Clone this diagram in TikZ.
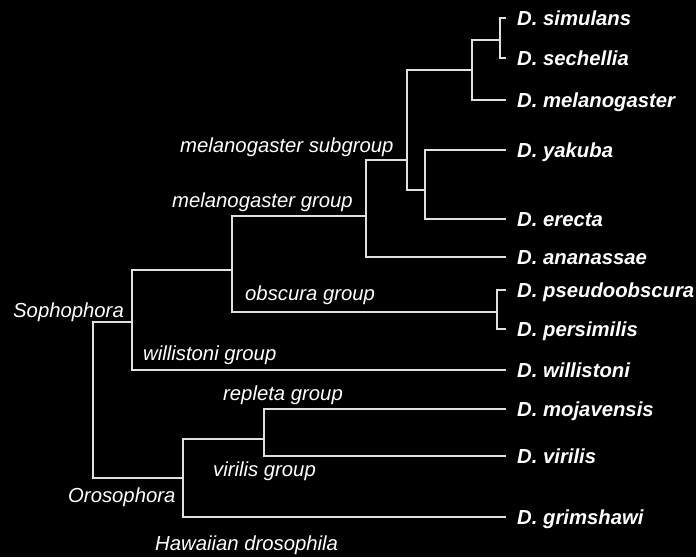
\documentclass[tikz,border=0pt]{standalone}
\usepackage{fontspec}
\setmainfont{Liberation Sans}
\usetikzlibrary{positioning}

\begin{document}
\begin{tikzpicture}[x=1pt,y=-1pt,
    branch/.style={draw=white!88!black,line width=2pt},
    leaf/.style={anchor=west,inner xsep=11pt,inner ysep=0pt,text height=14.6pt,text depth=0pt,
      font=\fontsize{20.3}{24}\selectfont\bfseries\itshape,text=white},
    grp/.style={anchor=west,inner sep=0pt,text height=14.6pt,text depth=0pt,
      font=\fontsize{20.3}{24}\selectfont\itshape,text=white}]
    \fill[black] (0,0) rectangle (696,557);
    \useasboundingbox (0,0) rectangle (696,557);

    % species
    \node[leaf] (sim) at (506,18) {D. simulans};
    \node[leaf] (sec) at (506,58) {D. sechellia};
    \node[leaf] (mel) at (506,100) {D. melanogaster};
    \node[leaf] (yak) at (506,150) {D. yakuba};
    \node[leaf] (ere) at (506,219) {D. erecta};
    \node[leaf] (ana) at (506,257) {D. ananassae};
    \node[leaf] (pse) at (506,290) {D. pseudoobscura};
    \node[leaf] (per) at (506,329) {D. persimilis};
    \node[leaf] (wil) at (506,370) {D. willistoni};
    \node[leaf] (moj) at (506,409) {D. mojavensis};
    \node[leaf] (vir) at (506,456) {D. virilis};
    \node[leaf] (gri) at (506,517) {D. grimshawi};

    % inner nodes
    \coordinate (simsec) at (500,40);
    \coordinate (melcx) at (472,70);
    \coordinate (yakere) at (425,190);
    \coordinate (melsub) at (407,160);
    \coordinate (melgrp) at (366,216);
    \coordinate (obsc) at (497,312);
    \coordinate (melobs) at (232,270);
    \coordinate (soph) at (132,322);
    \coordinate (replvir) at (264,439);
    \coordinate (oros) at (183,478);
    \coordinate (root) at (93,400);

    \foreach \p/\c in {root/soph,root/oros,soph/melobs,melobs/melgrp,melobs/obsc,
        melgrp/melsub,melsub/melcx,melsub/yakere,melcx/simsec,oros/replvir}
      \draw[branch] (\p) |- (\c);
    \foreach \p/\c in {simsec/sim,simsec/sec,melcx/mel,yakere/yak,yakere/ere,melgrp/ana,
        obsc/pse,obsc/per,soph/wil,replvir/moj,replvir/vir,oros/gri}
      \draw[branch] (\p) |- (\c.west);

    % group labels
    \node[grp] (lsub) at (180,145) {melanogaster subgroup};
    \node[grp] (lmel) at (172,200) {melanogaster group};
    \node[grp] (lobs) at (245,293) {obscura group};
    \node[grp] (lsoph) at (13,310) {Sophophora};
    \node[grp] (lwil) at (143,353) {willistoni group};
    \node[grp] (lrep) at (223,393) {repleta group};
    \node[grp] (lvir) at (213,469) {virilis group};
    \node[grp] (loro) at (68,495) {Orosophora};
    \node[grp] (lhaw) at (155,543) {Hawaiian drosophila};
  \end{tikzpicture}
\end{document}
